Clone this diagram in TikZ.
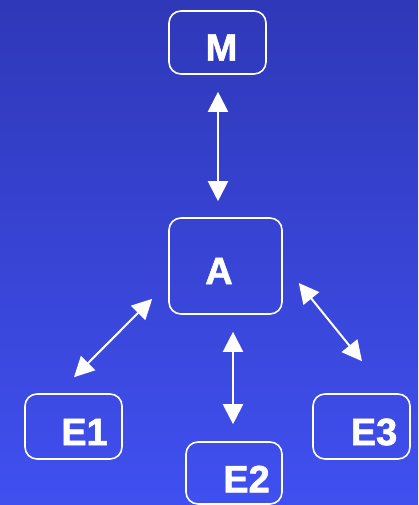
\documentclass[tikz,border=0pt]{standalone}
\usepackage{fontspec}
\setmainfont{Liberation Sans}
\newfontfamily\heavy[BoldFeatures={FakeBold=1.6}]{Liberation Sans}
\usetikzlibrary{arrows.meta,calc}
\definecolor{bgtop}{RGB}{47,56,184}
\definecolor{bgbot}{RGB}{64,80,240}
\begin{document}
\begin{tikzpicture}[x=1pt,y=-1pt,
  box/.style={draw=white,line width=1.6pt,rounded corners=12pt,minimum width=#1,inner sep=0pt},
  lbl/.style={text=white,font=\fontsize{38}{38}\heavy\bfseries},
  link/.style={draw=white,line width=2pt,{Triangle[width=20pt,length=20pt]}-{Triangle[width=20pt,length=20pt]}}]
\shade[top color=bgtop,bottom color=bgbot] (0,0) rectangle (418,505);
\useasboundingbox (0,0) rectangle (418,505);
\node[box=97pt,minimum height=63pt] (M) at (217.5,42.5) {};
\node[box=113pt,minimum height=96pt] (A) at (225.5,266) {};
\node[box=97pt,minimum height=65pt] (E1) at (73.5,426.5) {};
\node[box=97pt,minimum height=65pt] (E3) at (361.5,426.5) {};
\node[box=96pt,minimum height=62pt] (E2) at (234,473) {};
\node[lbl] (tM) at ($(M.center)+(4,5)$) {M};
\node[lbl] (tA) at ($(A.center)+(-6.5,5)$) {A};
\node[lbl] (tE1) at ($(E1.center)+(11,5.5)$) {E1};
\node[lbl] (tE3) at ($(E3.center)+(12.5,5.5)$) {E3};
\node[lbl] (tE2) at ($(E2.center)+(12.5,6)$) {E2};
\draw[link] ($(M.south)+(0.5,17)$) -- ($(M.south |- A.north)+(0.5,-16)$);
\draw[link] ($(A.south -| E2.north)+(-1,17)$) -- ($(E2.north)+(-1,-17)$);
\draw[link] ($(A.south west)+(-16,-16)$) -- ($(E1.north)+(0.5,-16)$);
\draw[link] ($(A.east)+(16,17)$) -- ($(E3.north)+(0.5,-32)$);
\end{tikzpicture}
\end{document}
